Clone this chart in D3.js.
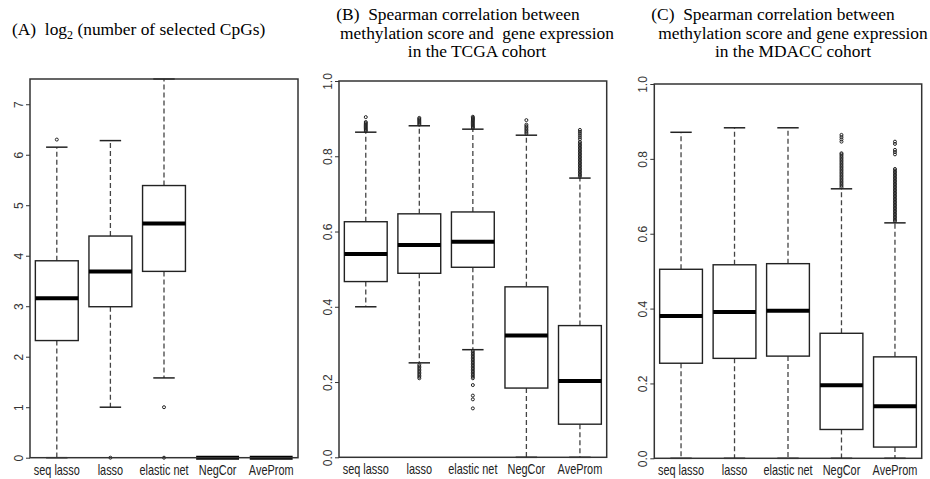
<!DOCTYPE html>
<html lang="en">
<head>
<meta charset="UTF-8">
<title>Selected CpGs and Spearman correlation boxplots</title>
<style>
  html, body { margin: 0; background: #fff; }
  .title { font-family: 'Liberation Serif', 'Times New Roman', serif; font-size: 17.4px; fill: #000; white-space: pre; }
  .tick text { font-family: 'Liberation Sans', Arial, sans-serif; font-size: 12px; fill: #333; }
  .cat { font-family: 'Liberation Sans', Arial, sans-serif; font-size: 14px; fill: #222; }
</style>
</head>
<body>
<svg id="fig" width="930" height="479" viewBox="0 0 930 479"></svg>
<script src="https://d3js.org/d3.v7.min.js"></script>
<script>
// groups along the x axis, same for all three panels
const categories = ["seq lasso", "lasso", "elastic net", "NegCor", "AveProm"];

// (A) log2(number of selected CpGs)
const cpgLow    = [0,    1.00, 1.58, 0, 0];
const cpgQ1     = [2.32, 2.99, 3.69, 0, 0];
const cpgMedian = [3.16, 3.69, 4.64, 0, 0];
const cpgQ3     = [3.90, 4.39, 5.39, 0, 0];
const cpgHigh   = [6.15, 6.28, 7.50, 0, 0];
const cpgOut    = [[6.30], [0], [1.0, 0], [], []];
const cpgTicks  = [0, 1, 2, 3, 4, 5, 6, 7];

// (B) TCGA cohort
const tcgaLow    = [0.400, 0.251, 0.286, 0, 0];
const tcgaQ1     = [0.467, 0.489, 0.505, 0.184, 0.088];
const tcgaMedian = [0.540, 0.564, 0.573, 0.324, 0.203];
const tcgaQ3     = [0.626, 0.647, 0.652, 0.453, 0.350];
const tcgaHigh   = [0.864, 0.881, 0.872, 0.856, 0.742];
const tcgaOut = [
  [0.867, 0.870, 0.873, 0.876, 0.879, 0.882, 0.885, 0.888, 0.891, 0.904],
  [0.884, 0.887, 0.890, 0.893, 0.896, 0.899, 0.902,
   0.246, 0.242, 0.238, 0.234, 0.230, 0.226, 0.222, 0.218, 0.214, 0.210],
  [0.875, 0.878, 0.881, 0.884, 0.887, 0.890, 0.893, 0.896, 0.899, 0.902, 0.905,
   0.282, 0.278, 0.274, 0.270, 0.266, 0.262, 0.258, 0.254, 0.250, 0.246, 0.242,
   0.238, 0.234, 0.230, 0.226, 0.222, 0.218, 0.214, 0.210, 0.192, 0.164, 0.154, 0.130],
  [0.860, 0.864, 0.868, 0.872, 0.876, 0.880, 0.884, 0.896],
  [0.746, 0.750, 0.754, 0.758, 0.762, 0.766, 0.770, 0.774, 0.778, 0.782, 0.786,
   0.790, 0.794, 0.798, 0.802, 0.806, 0.810, 0.814, 0.818, 0.822, 0.826, 0.830,
   0.834, 0.838, 0.845, 0.850, 0.855, 0.860, 0.865, 0.870]
];

// (C) MDACC cohort
const mdaccLow    = [0, 0, 0, 0, 0];
const mdaccQ1     = [0.254, 0.267, 0.273, 0.077, 0.030];
const mdaccMedian = [0.380, 0.391, 0.394, 0.195, 0.139];
const mdaccQ3     = [0.505, 0.517, 0.520, 0.334, 0.271];
const mdaccHigh   = [0.871, 0.883, 0.883, 0.720, 0.629];
const mdaccOut = [
  [], [], [],
  [0.724, 0.728, 0.732, 0.736, 0.740, 0.744, 0.748, 0.752, 0.756, 0.760, 0.764,
   0.768, 0.772, 0.776, 0.780, 0.784, 0.788, 0.792, 0.796, 0.800, 0.804, 0.808,
   0.812, 0.815, 0.846, 0.852, 0.858, 0.864],
  [0.633, 0.637, 0.641, 0.645, 0.649, 0.653, 0.657, 0.661, 0.665, 0.669, 0.673,
   0.677, 0.681, 0.685, 0.689, 0.693, 0.697, 0.701, 0.705, 0.709, 0.713, 0.717,
   0.721, 0.725, 0.729, 0.733, 0.737, 0.741, 0.745, 0.749, 0.753, 0.757, 0.761,
   0.765, 0.769, 0.773, 0.812, 0.818, 0.824, 0.840, 0.846]
];
const corTicks = [0, 0.2, 0.4, 0.6, 0.8, 1.0];

const svg = d3.select("#fig");

function drawPanel(p) {
  const x = d3.scaleBand().domain(categories).range([p.left, p.right]).padding(0);
  const y = d3.scaleLinear().domain(p.domain).range([p.bottom, p.top]);
  const g = svg.append("g");
  const bw = x.bandwidth() * 0.8;
  const cw = bw / 2;

  categories.forEach(function (c, i) {
    const cx = x(c) + x.bandwidth() / 2;
    // whiskers
    g.append("line").attr("x1", cx).attr("x2", cx)
      .attr("y1", y(p.q3[i])).attr("y2", y(p.high[i]))
      .attr("stroke", "#444").attr("stroke-width", 1.3).attr("stroke-dasharray", "5,3");
    g.append("line").attr("x1", cx).attr("x2", cx)
      .attr("y1", y(p.q1[i])).attr("y2", y(p.low[i]))
      .attr("stroke", "#444").attr("stroke-width", 1.3).attr("stroke-dasharray", "5,3");
    // caps
    [p.high[i], p.low[i]].forEach(function (v) {
      g.append("line").attr("x1", cx - cw / 2).attr("x2", cx + cw / 2)
        .attr("y1", y(v)).attr("y2", y(v))
        .attr("stroke", "#222").attr("stroke-width", 1.5);
    });
    // box
    g.append("rect").attr("x", cx - bw / 2).attr("width", bw)
      .attr("y", y(p.q3[i])).attr("height", Math.max(0, y(p.q1[i]) - y(p.q3[i])))
      .attr("fill", "#fff").attr("stroke", "#222").attr("stroke-width", 1.4);
    // median
    g.append("line").attr("x1", cx - bw / 2).attr("x2", cx + bw / 2)
      .attr("y1", y(p.median[i])).attr("y2", y(p.median[i]))
      .attr("stroke", "#000").attr("stroke-width", 4);
    // outliers
    g.selectAll(null).data(p.out[i]).enter().append("circle")
      .attr("cx", cx).attr("cy", function (d) { return y(d); })
      .attr("r", 1.5).attr("fill", "none").attr("stroke", "#222").attr("stroke-width", 1);
  });

  // frame
  g.append("rect").attr("x", p.left).attr("y", p.top)
    .attr("width", p.right - p.left).attr("height", p.bottom - p.top)
    .attr("fill", "none").attr("stroke", "#333").attr("stroke-width", 1.5);

  // y axis, labels turned like R's default
  const ax = g.append("g").attr("transform", "translate(" + p.left + ",0)")
    .call(d3.axisLeft(y).tickValues(p.ticks).tickSize(4).tickFormat(p.fmt));
  ax.select(".domain").remove();
  ax.selectAll(".tick line").attr("stroke", "#333");
  ax.selectAll(".tick text")
    .attr("x", 0).attr("dy", 0).attr("y", -7)
    .attr("text-anchor", "middle")
    .attr("transform", "rotate(-90)");

  // group labels
  categories.forEach(function (c) {
    const cx = x(c) + x.bandwidth() / 2;
    g.append("text").attr("class", "cat")
      .attr("text-anchor", "middle")
      .attr("transform", "translate(" + cx + "," + (p.bottom + 17) + ") scale(0.78,1)")
      .text(c);
  });
}

drawPanel({left: 30, right: 298, top: 79, bottom: 457.7, domain: [0, 7.5],
  ticks: cpgTicks, fmt: d3.format("d"),
  low: cpgLow, q1: cpgQ1, median: cpgMedian, q3: cpgQ3, high: cpgHigh, out: cpgOut});
drawPanel({left: 339, right: 606.7, top: 81, bottom: 457.3, domain: [0, 1],
  ticks: corTicks, fmt: d3.format(".1f"),
  low: tcgaLow, q1: tcgaQ1, median: tcgaMedian, q3: tcgaQ3, high: tcgaHigh, out: tcgaOut});
drawPanel({left: 654.3, right: 921.7, top: 84, bottom: 458.3, domain: [0, 1],
  ticks: corTicks, fmt: d3.format(".1f"),
  low: mdaccLow, q1: mdaccQ1, median: mdaccMedian, q3: mdaccQ3, high: mdaccHigh, out: mdaccOut});

// titles
const tA = svg.append("text").attr("class", "title").attr("x", 12).attr("y", 35);
tA.append("tspan").text("(A)  log");
tA.append("tspan").attr("font-size", "12px").attr("dy", 4).text("2");
tA.append("tspan").attr("dy", -4).text(" (number of selected CpGs)");

[["(B)  Spearman correlation between", 458, 20],
 ["methylation score and  gene expression", 477, 38.5],
 ["in the TCGA cohort", 477, 57],
 ["(C)  Spearman correlation between", 773, 20],
 ["methylation score and gene expression", 793, 38.5],
 ["in the MDACC cohort", 793, 57]].forEach(function (t) {
  svg.append("text").attr("class", "title").attr("text-anchor", "middle")
    .attr("x", t[1]).attr("y", t[2]).text(t[0]);
});
</script>
</body>
</html>
